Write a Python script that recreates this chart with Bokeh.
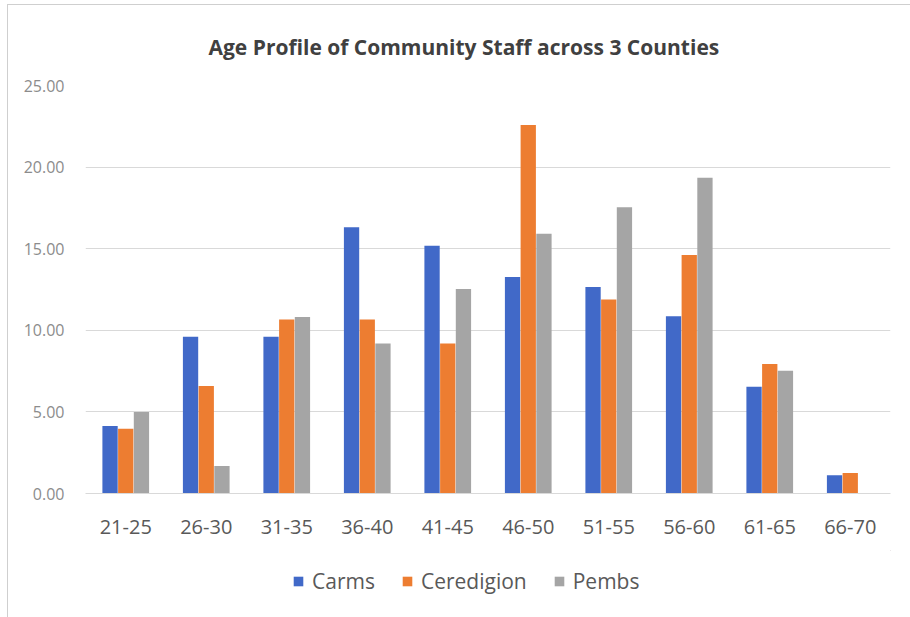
from bokeh.plotting import figure
from bokeh.layouts import column
from bokeh.models import (FactorRange, Range1d, FixedTicker, NumeralTickFormatter, Legend,
                          LegendItem, ColumnDataSource)
from bokeh.transform import dodge
from bokeh.embed import file_html
from bokeh.resources import INLINE

categories = ["21-25", "26-30", "31-35", "36-40", "41-45", "46-50", "51-55", "56-60", "61-65", "66-70"]
carms = [4.14, 9.60, 9.60, 16.32, 15.18, 13.27, 12.65, 10.86, 6.54, 1.12]
ceredigion = [3.97, 6.58, 10.66, 10.66, 9.19, 22.58, 11.88, 14.61, 7.93, 1.25]
pembs = [5.00, 1.69, 10.82, 9.19, 12.53, 15.92, 17.54, 19.34, 7.52, 0.0]
series_names = ["Carms", "Ceredigion", "Pembs"]
colors = ["#4169C8", "#ED7D31", "#A5A5A5"]
y_ticks = [0, 5, 10, 15, 20, 25]

src = ColumnDataSource(dict(cat=categories, Carms=carms, Ceredigion=ceredigion, Pembs=pembs))

FONT = "Open Sans"

p = figure(x_range=FactorRange(*categories, range_padding=0), y_range=Range1d(0, 25),
           width=902, height=545, output_backend="svg", toolbar_location=None,
           min_border_left=77, min_border_right=20, min_border_top=79, min_border_bottom=57)

p.title.text = "Age Profile of Community Staff across 3 Counties"
p.title.align = "left"
p.title.text_font = FONT
p.title.text_font_size = "21px"
p.title.text_font_style = "bold"
p.title.text_color = "#404040"
p.title.standoff = 50
p.title.offset = 123

offsets = [-0.195, 0.0, 0.195]
for name, col, off in zip(series_names, colors, offsets):
    p.vbar(x=dodge("cat", off, range=p.x_range), top=name, width=0.19, source=src,
           fill_color=col, line_color=None)

p.outline_line_color = None
p.xgrid.grid_line_color = None
p.ygrid.grid_line_color = "#d9d9d9"
p.ygrid.grid_line_width = 1

p.yaxis.ticker = FixedTicker(ticks=y_ticks)
p.yaxis.formatter = NumeralTickFormatter(format="0.00")
p.yaxis.axis_line_color = None
p.yaxis.major_tick_line_color = None
p.yaxis.minor_tick_line_color = None
p.yaxis.major_label_text_font = FONT
p.yaxis.major_label_text_font_size = "16px"
p.yaxis.major_label_text_color = "#8c8c8c"
p.yaxis.major_label_standoff = 15

p.xaxis.axis_line_color = "#d9d9d9"
p.xaxis.major_tick_line_color = None
p.xaxis.minor_tick_line_color = None
p.xaxis.major_label_text_font = FONT
p.xaxis.major_label_text_font_size = "20px"
p.xaxis.major_label_text_color = "#595959"
p.xaxis.major_label_standoff = 20

# legend in its own strip below the chart
lg = figure(width=902, height=67, output_backend="svg", toolbar_location=None,
            x_range=Range1d(0, 1), y_range=Range1d(0, 1),
            x_axis_location=None, y_axis_location=None,
            min_border=0, min_border_left=0, min_border_right=0, min_border_top=0, min_border_bottom=0)
lg.grid.visible = False
lg.outline_line_color = None
hidden = ColumnDataSource(dict(x=[5.0], top=[5.0], bottom=[4.0]))
items = []
for name, col in zip(series_names, colors):
    r = lg.vbar(x="x", top="top", bottom="bottom", width=0.1, source=hidden,
                fill_color=col, line_color=None)
    items.append(LegendItem(label=name, renderers=[r]))
legend = Legend(items=items, orientation="horizontal", location=(207, 22),
                label_text_font=FONT, label_text_font_size="21px", label_text_color="#595959",
                glyph_width=12, glyph_height=12, spacing=26, label_standoff=8,
                border_line_color=None, background_fill_alpha=0, margin=0, padding=4)
lg.add_layout(legend, "center")

layout = column(p, lg, spacing=0, margin=(4, 0, 0, 7),
                styles={"border-left": "1px solid #cfcfcf", "border-top": "1px solid #cfcfcf"})

open("out.html", "w").write(file_html(layout, INLINE))
